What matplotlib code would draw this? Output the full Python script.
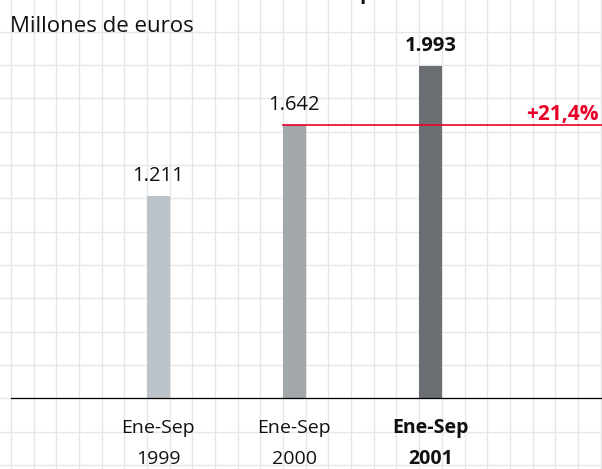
import numpy as np
import matplotlib
matplotlib.use("Agg")
import matplotlib.pyplot as plt

# data
periods = ["Ene-Sep", "Ene-Sep", "Ene-Sep"]
years = ["1999", "2000", "2001"]
values = [1211, 1642, 1993]
value_labels = ["1.211", "1.642", "1.993"]
bar_colors = ["#bcc3c9", "#a2a7a9", "#6b6e73"]

plt.rcParams["font.family"] = ["Open Sans", "DejaVu Sans"]

W, H = 602, 469
fig = plt.figure(figsize=(W / 100, H / 100), dpi=100)
ax = fig.add_axes([0, 0, 1, 1])

# pixel layout: bar centres 136.1px apart, 1/6 px per euro-million
px_x = 136.1
x0_px = 158.3
base_px = 70.7
ax.set_xlim(-x0_px / px_x, (W - x0_px) / px_x)
ax.set_ylim(-base_px * 6, (H - base_px) * 6)
ax.axis("off")

# background grid
for j in range(-6, 21):
    ax.axvline(-1 / 12 + j / 6, color="#e6e6e6", lw=1.0, zorder=0)
for m in range(-2, 12):
    ax.axhline(200 * m, color="#e6e6e6", lw=1.0, zorder=0)

x = np.arange(len(values))
ax.bar(x, values, width=1 / 6, color=bar_colors, zorder=2)

# baseline
ax.plot([-1 - 1 / 12, ax.get_xlim()[1]], [0, 0], color="black", lw=0.9, zorder=3)

# value labels
for i, (v, lab) in enumerate(zip(values, value_labels)):
    bold = i == len(values) - 1
    ax.annotate(lab, (x[i], v), xytext=(0, 15), textcoords="offset pixels",
                ha="center", va="baseline", fontsize=14.5,
                fontweight="bold" if bold else "normal", color="#111111")

# category labels
for i in range(len(values)):
    bold = i == len(values) - 1
    fw = "bold" if bold else "normal"
    ax.annotate(periods[i], (x[i], 0), xytext=(0, -35), textcoords="offset pixels",
                ha="center", va="baseline", fontsize=14, fontweight=fw, color="#111111")
    ax.annotate(years[i], (x[i], 0), xytext=(0, -66), textcoords="offset pixels",
                ha="center", va="baseline", fontsize=14, fontweight=fw, color="#111111")

# growth line from 2000 to 2001
red = "#e8002a"
ax.plot([1 - 1 / 12, ax.get_xlim()[1]], [values[1], values[1]], color=red, lw=1.2, zorder=4)
growth = (values[2] / values[1] - 1) * 100
ax.annotate(f"+{growth:.1f}%".replace(".", ","), (ax.get_xlim()[1], values[1]),
            xytext=(-3, 5), textcoords="offset pixels", ha="right", va="baseline",
            fontsize=15, fontweight="bold", color=red)

fig.text(10 / W, 1 - 32 / H, "Millones de euros", ha="left", va="baseline",
         fontsize=16, color="#111111")
# descender of the cut-off title above the frame
fig.text(359 / W, 1 + 1 / H, "p", ha="left", va="baseline", fontsize=15,
         fontweight="bold", color="#111111")

fig.savefig("out.png", dpi=100)
